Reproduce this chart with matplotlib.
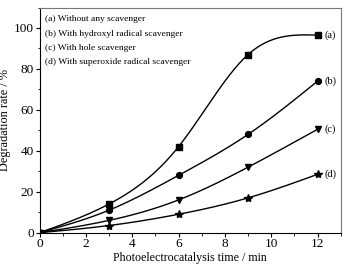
import numpy as np
import matplotlib
matplotlib.use("Agg")
import matplotlib.pyplot as plt
from matplotlib.ticker import MultipleLocator

plt.rcParams['font.family'] = ['Liberation Serif', 'DejaVu Serif']

time = [0, 3, 6, 9, 12]
series_a = [0, 14, 42, 87, 96.5]
series_b = [0, 11, 28, 48, 74]
series_c = [0, 6, 16, 32, 50.5]
series_d = [0, 3.5, 9, 17, 28.5]
labels = ["(a) Without any scavenger",
          "(b) With hydroxyl radical scavenger",
          "(c) With hole scavenger",
          "(d) With superoxide radical scavenger"]
tags = ["(a)", "(b)", "(c)", "(d)"]
markers = ["s", "o", "v", "*"]


def natural_spline(x, y, xs):
    x = np.asarray(x, float); y = np.asarray(y, float)
    n = len(x)
    h = np.diff(x)
    A = np.zeros((n, n)); r = np.zeros(n)
    A[0, 0] = 1; A[-1, -1] = 1
    for i in range(1, n - 1):
        A[i, i - 1] = h[i - 1]
        A[i, i] = 2 * (h[i - 1] + h[i])
        A[i, i + 1] = h[i]
        r[i] = 6 * ((y[i + 1] - y[i]) / h[i] - (y[i] - y[i - 1]) / h[i - 1])
    M = np.linalg.solve(A, r)
    out = np.empty_like(xs)
    for k, xv in enumerate(xs):
        i = min(max(np.searchsorted(x, xv) - 1, 0), n - 2)
        t1 = x[i + 1] - xv; t0 = xv - x[i]
        out[k] = (M[i] * t1**3 + M[i + 1] * t0**3) / (6 * h[i]) \
            + (y[i] / h[i] - M[i] * h[i] / 6) * t1 \
            + (y[i + 1] / h[i] - M[i + 1] * h[i] / 6) * t0
    return out


fig = plt.figure(figsize=(3.48, 2.65), dpi=100)
ax = fig.add_axes([39.5 / 348, 1 - 232.7 / 265, (340.7 - 39.5) / 348, (232.7 - 7.5) / 265])

xs = np.linspace(0, 12, 300)
for ys, m, tag in zip([series_a, series_b, series_c, series_d], markers, tags):
    ax.plot(xs, natural_spline(time, ys, xs), color='black', lw=1.0)
    ms = 6 if m == '*' else 4.2
    ax.plot(time, ys, linestyle='none', marker=m, color='black', markersize=ms)
    ax.text(12.3, ys[-1], tag, fontsize=7.5, va='center', ha='left')

for i, lab in enumerate(labels):
    ax.text(0.24, 104.2 - i * 7.0, lab, fontsize=6.8, va='center', ha='left')

ax.set_xlim(0, 13)
ax.set_ylim(0, 110)
ax.xaxis.set_major_locator(MultipleLocator(2))
ax.xaxis.set_minor_locator(MultipleLocator(1))
ax.yaxis.set_major_locator(MultipleLocator(20))
ax.yaxis.set_minor_locator(MultipleLocator(10))
ax.tick_params(which='both', direction='out', top=False, right=False, labelsize=9.5, pad=1)
ax.tick_params(which='major', length=3)
ax.tick_params(which='minor', length=1.8)
for s in ['top', 'right']:
    ax.spines[s].set_color('#777777')
ax.set_xlabel("Photoelectrocatalysis time / min", fontsize=8.6, labelpad=1)
ax.set_ylabel("Degradation rate / %", fontsize=8.8, labelpad=2)

fig.savefig("out.png", dpi=100)
